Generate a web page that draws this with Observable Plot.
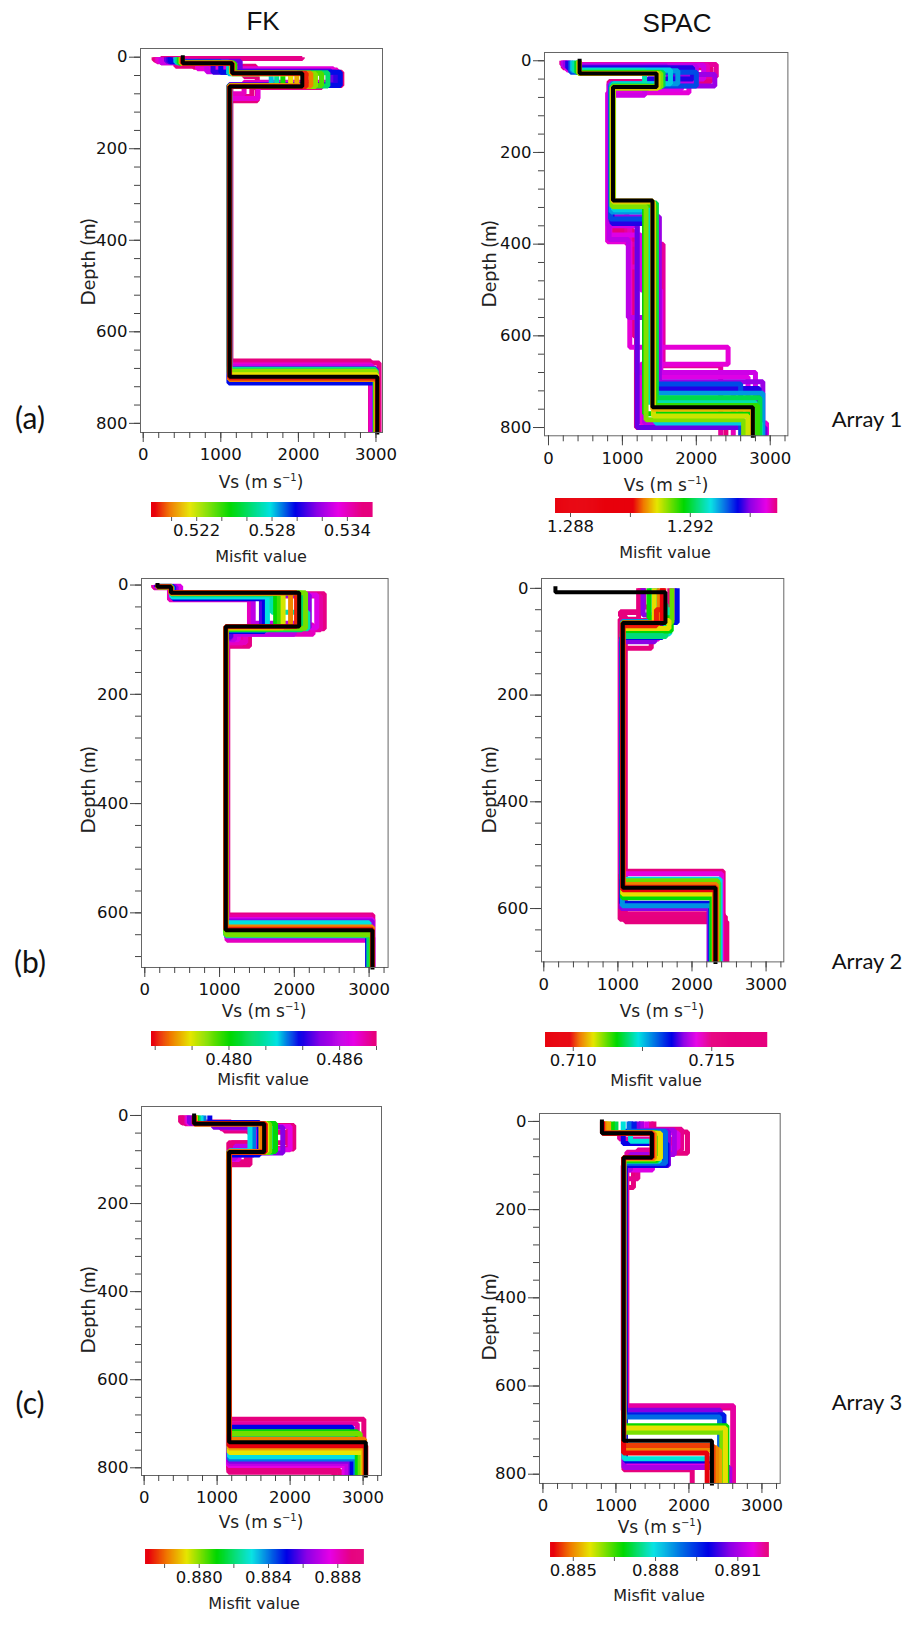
<!DOCTYPE html>
<html><head><meta charset="utf-8">
<script src="https://cdn.jsdelivr.net/npm/d3@7"></script>
<script src="https://cdn.jsdelivr.net/npm/@observablehq/plot@0.6"></script>
<style>
body{margin:0;background:#fff;}
#fig{position:relative;width:916px;height:1627px;overflow:hidden;background:#fff;color:#222;}
.abs{position:absolute;white-space:nowrap;line-height:1;}
svg{position:absolute;overflow:visible;}
</style></head><body><div id="fig"></div>
<script>
// ---------- colour ramp ----------
const rainbow = ["#e8000c","#f07800","#e6e600","#00d800","#00e2e2","#0000e6","#8a00e6","#e600e6","#e6007e"];

// ---------- axis tick labels ----------
const depthTicks800 = [0, 200, 400, 600, 800];
const depthTicks700 = [0, 200, 400, 600];
const vsTicks = [0, 1000, 2000, 3000];

// ---------- FK, Array 1 ----------
const fk1Misfit = [0.5355, 0.5352, 0.5350, 0.5340, 0.5336, 0.5328, 0.5312, 0.5305, 0.5298, 0.5282, 0.5270, 0.5262, 0.5245, 0.5236, 0.5228, 0.5214, 0.5207, 0.5200, 0.5190];
const fk1Vs = [
  [140, 650, 1300, 1470, 1125, 2930],
  [160, 420, 1450, 2560, 1130, 2940],
  [2050, 230, 900, 2300, 1400, 1120, 3040],
  [180, 1050, 2500, 1300, 1115, 2935],
  [200, 700, 2450, 1480, 1118, 2950],
  [230, 820, 1900, 1110, 2960],
  [300, 1250, 2420, 1120, 3000],
  [330, 900, 2480, 1110, 3000],
  [350, 1000, 2540, 1105, 2990],
  [420, 1100, 1650, 1115, 3000],
  [440, 1120, 1720, 1112, 2990],
  [450, 1160, 2380, 1112, 2998],
  [470, 1180, 1800, 1110, 2995],
  [480, 1170, 2300, 1110, 3000],
  [490, 1150, 2220, 1115, 3000],
  [495, 1140, 1900, 1110, 3010],
  [498, 1145, 1980, 1112, 3010],
  [500, 1150, 2160, 1113, 3020],
  [505, 1148, 2100, 1113, 3017]];
const fk1Z = [
  [6, 22, 42, 95, 664],
  [8, 20, 33, 62, 670],
  [3, 12, 30, 66, 86, 668],
  [10, 28, 55, 80, 672],
  [9, 25, 58, 90, 674],
  [12, 32, 60, 676],
  [9, 30, 62, 680],
  [10, 33, 60, 707],
  [10, 33, 62, 712],
  [11, 36, 62, 684],
  [12, 35, 62, 682],
  [12, 34, 63, 684],
  [13, 35, 62, 688],
  [13, 35, 62, 690],
  [13, 36, 64, 686],
  [13, 36, 63, 694],
  [13, 35, 63, 703],
  [13, 35, 63, 704],
  [13, 35, 64, 701]];
const fk1BestVs = [510, 1147, 2050, 1113, 3017];
const fk1BestZ = [13, 35, 64, 698];
const fk1Stops = [0.5187, 0.5199, 0.5215, 0.5247, 0.5279, 0.5299, 0.5316, 0.5333, 0.5352];
const fk1Bar = [0.5184, 0.536];
const fk1BarTicks = [0.520, 0.522, 0.524, 0.526, 0.528, 0.530, 0.532, 0.534];
const fk1BarLabels = [0.522, 0.528, 0.534];

// ---------- SPAC, Array 1 ----------
const spac1Misfit = [1.2949, 1.2948, 1.2947, 1.2946, 1.2945, 1.2944, 1.2943, 1.2941, 1.2939, 1.2937, 1.2933, 1.2930, 1.2928, 1.2925, 1.2921, 1.2918, 1.2916, 1.2913, 1.2910, 1.2907];
const spac1Vs = [
  [200, 2200, 820, 1150, 1190, 2400],
  [180, 2270, 1700, 830, 1060, 1550, 2330],
  [220, 2150, 1650, 850, 1100, 1500, 2500],
  [250, 1900, 800, 1100, 2430, 1250, 2950],
  [240, 1800, 830, 1250, 1520, 2700],
  [210, 2100, 1300, 810, 1200, 2800],
  [200, 2000, 820, 1080, 1300, 2850],
  [230, 1600, 2250, 850, 1500, 2900],
  [270, 1700, 845, 1200, 2930],
  [260, 1950, 1350, 860, 1300, 2850],
  [300, 2000, 840, 1350, 2600],
  [320, 1750, 850, 1380, 2900],
  [330, 1650, 880, 1450, 2870],
  [350, 1300, 870, 1350, 2800],
  [380, 1550, 860, 1460, 2860],
  [400, 1500, 880, 1300, 2720],
  [405, 1490, 865, 1440, 2830],
  [410, 1520, 860, 1320, 2640],
  [415, 1480, 875, 1420, 2700],
  [420, 1470, 870, 1410, 2760]];
const spac1Z = [
  [15, 45, 370, 600, 800],
  [8, 35, 62, 330, 400, 665],
  [10, 30, 60, 350, 450, 720],
  [20, 70, 395, 625, 662, 790],
  [18, 62, 380, 500, 690],
  [10, 40, 75, 360, 680],
  [12, 50, 390, 560, 790],
  [12, 30, 55, 340, 700],
  [18, 52, 350, 800],
  [15, 40, 60, 355, 715],
  [25, 55, 345, 705],
  [22, 50, 330, 725],
  [20, 50, 325, 790],
  [22, 52, 320, 745],
  [25, 55, 310, 735],
  [26, 56, 312, 770],
  [27, 57, 315, 752],
  [27, 58, 318, 783],
  [28, 60, 308, 775],
  [28, 58, 306, 760]];
const spac1BestVs = [421, 1462, 873, 1407, 2765];
const spac1BestZ = [28, 57, 305, 756];
const spac1Stops = [1.2901, 1.29045, 1.2909, 1.2918, 1.2927, 1.2936, 1.2940, 1.29455, 1.2949];
const spac1Bar = [1.2875, 1.2949];
const spac1BarTicks = [1.288, 1.290, 1.292, 1.294];
const spac1BarLabels = [1.288, 1.292];

// ---------- FK, Array 2 ----------
const fk2Misfit = [0.4878, 0.4875, 0.4872, 0.4866, 0.4860, 0.4852, 0.4845, 0.4838, 0.4826, 0.4820, 0.4812, 0.4801, 0.4795, 0.4790, 0.4781, 0.4770, 0.4762];
const fk2Vs = [
  [120, 400, 2400, 1400, 1110, 3050],
  [125, 450, 2350, 1300, 1105, 3020],
  [140, 330, 1400, 2250, 1350, 1100, 3000],
  [150, 480, 2300, 1250, 1090, 3050],
  [145, 400, 1450, 2000, 1200, 1095, 3050],
  [160, 420, 2200, 1150, 1085, 3040],
  [160, 390, 1560, 1150, 1088, 2990],
  [165, 380, 1600, 1090, 2980],
  [170, 360, 1640, 1085, 3000],
  [170, 365, 1700, 2180, 1085, 3040],
  [170, 360, 2100, 1085, 3000],
  [172, 355, 1750, 1088, 3040],
  [170, 352, 1800, 1085, 3030],
  [170, 352, 2150, 1085, 3045],
  [170, 350, 1850, 1083, 3045],
  [170, 350, 1950, 1083, 3045],
  [170, 350, 2030, 1083, 3045]];
const fk2Z = [
  [4, 16, 80, 112, 604],
  [5, 20, 82, 108, 607],
  [3, 27, 73, 90, 105, 650],
  [2, 18, 78, 100, 612],
  [3, 25, 70, 90, 100, 645],
  [3, 18, 78, 98, 615],
  [3, 22, 84, 95, 620],
  [3, 25, 85, 622],
  [3, 22, 82, 618],
  [3, 18, 50, 80, 642],
  [2, 15, 82, 640],
  [3, 16, 80, 636],
  [3, 15, 80, 634],
  [3, 14, 79, 640],
  [3, 15, 78, 628],
  [3, 14, 77, 626],
  [3, 14, 76, 630]];
const fk2BestVs = [170, 350, 2065, 1083, 3045];
const fk2BestZ = [3, 14, 76, 632];
const fk2Stops = [0.47594, 0.47685, 0.47793, 0.4801, 0.48263, 0.48381, 0.48498, 0.48679, 0.48787];
const fk2Bar = [0.4758, 0.488];
const fk2BarTicks = [0.476, 0.478, 0.480, 0.482, 0.484, 0.486, 0.488];
const fk2BarLabels = [0.480, 0.486];

// ---------- SPAC, Array 2 ----------
const spac2Misfit = [0.7168, 0.7166, 0.7163, 0.7158, 0.7150, 0.7145, 0.7140, 0.7135, 0.7128, 0.7124, 0.7120, 0.7116, 0.7112, 0.7107, 0.7103, 0.7100, 0.7095];
const spac2Vs = [
  [1300, 1035, 1100, 2470],
  [1280, 1030, 2440],
  [1700, 1450, 1080, 2420],
  [1330, 1050, 2450],
  [1350, 1420, 1045, 2420],
  [1760, 1550, 1040, 2400],
  [1340, 1500, 1045, 2230],
  [1800, 1600, 1050, 2250],
  [1480, 1060, 2260],
  [1450, 1700, 1060, 2380],
  [1520, 1650, 1062, 2360],
  [1420, 1720, 1060, 2270],
  [1730, 1062, 2350],
  [1490, 1690, 1065, 2300],
  [1560, 1070, 2330],
  [1620, 1520, 1066, 2320],
  [1600, 1066, 2310]];
const spac2Z = [
  [44, 52, 625],
  [58, 620],
  [62, 112, 530],
  [45, 615],
  [35, 60, 610],
  [60, 95, 535],
  [50, 100, 600],
  [64, 92, 590],
  [62, 595],
  [40, 85, 545],
  [30, 90, 552],
  [55, 80, 580],
  [64, 548],
  [60, 75, 573],
  [66, 555],
  [40, 70, 560],
  [65, 565]];
const spac2BestVs = [157, 1642, 1066, 2317];
const spac2BestZ = [7.5, 65, 561];
const spac2Stops = [0.7099, 0.71026, 0.71074, 0.71159, 0.71237, 0.71357, 0.71399, 0.71447, 0.71502];
const spac2Bar = [0.709, 0.717];
const spac2BarTicks = [0.710, 0.7125, 0.715];
const spac2BarLabels = [0.710, 0.715];

// ---------- FK, Array 3 ----------
const fk3Misfit = [0.8894, 0.8892, 0.8891, 0.8888, 0.8884, 0.8876, 0.8870, 0.8862, 0.8851, 0.8840, 0.8831, 0.8820, 0.8811, 0.8802, 0.8793, 0.8786, 0.8782, 0.8771];
const fk3Vs = [
  [500, 1190, 2050, 1450, 1160, 3010],
  [510, 1280, 1980, 1400, 1160, 2680],
  [520, 1420, 1950, 1160, 2600],
  [560, 1100, 1520, 1200, 1160, 2620],
  [580, 1050, 1600, 1500, 1160, 2920],
  [600, 1000, 2000, 1300, 1155, 2740],
  [640, 1150, 1560, 1250, 1160, 2780],
  [620, 950, 1900, 1165, 2830],
  [900, 1580, 1160, 2850],
  [820, 1500, 1165, 2900],
  [780, 1450, 1170, 2970],
  [740, 1760, 1162, 2950],
  [720, 1800, 1160, 2920],
  [700, 1720, 1165, 2960],
  [700, 1680, 1165, 3000],
  [695, 1600, 1165, 3010],
  [690, 1620, 1165, 3020],
  [685, 1660, 1164, 3037]];
const fk3Z = [
  [15, 23, 76, 112, 690],
  [16, 24, 75, 105, 805],
  [17, 38, 62, 800],
  [19, 35, 62, 95, 810],
  [18, 30, 60, 90, 700],
  [18, 25, 78, 100, 795],
  [18, 28, 70, 98, 790],
  [17, 27, 85, 785],
  [16, 90, 708],
  [18, 82, 780],
  [18, 80, 775],
  [18, 84, 726],
  [18, 82, 718],
  [19, 84, 722],
  [19, 82, 765],
  [19, 84, 755],
  [19, 84, 735],
  [19, 83, 750]];
const fk3BestVs = [685, 1644, 1164, 3037];
const fk3BestZ = [19, 83, 742];
const fk3Stops = [0.87709, 0.87815, 0.8793, 0.88104, 0.88306, 0.88508, 0.88623, 0.88758, 0.88883];
const fk3Bar = [0.8769, 0.8895];
const fk3BarTicks = [0.878, 0.880, 0.882, 0.884, 0.886, 0.888];
const fk3BarLabels = [0.880, 0.884, 0.888];

// ---------- SPAC, Array 3 ----------
const spac3Misfit = [0.8921, 0.8920, 0.8919, 0.8915, 0.8910, 0.8907, 0.8900, 0.8897, 0.8890, 0.8879, 0.8872, 0.8868, 0.8862, 0.8856, 0.8852, 0.8850, 0.8846, 0.8843];
const spac3Vs = [
  [1520, 1980, 1240, 1110, 2045],
  [1480, 1900, 1300, 1130, 2600],
  [1350, 1050, 1780, 1150, 2610],
  [1420, 1850, 1500, 1120, 2500],
  [1350, 1800, 1200, 1110, 2560],
  [1300, 1720, 1100, 2430],
  [1200, 1100, 1700, 1130, 2330],
  [1250, 1650, 1110, 2480],
  [1180, 1680, 1110, 2420],
  [1100, 1200, 1600, 1110, 2460],
  [1000, 1570, 1105, 2500],
  [950, 1560, 1105, 2520],
  [880, 1540, 1108, 2450],
  [860, 1610, 1105, 2500],
  [900, 1530, 1105, 2420],
  [840, 1520, 1105, 2380],
  [820, 1500, 1105, 2330],
  [815, 1495, 1105, 2250]];
const spac3Z = [
  [24, 72, 150, 790],
  [18, 65, 130, 650],
  [25, 40, 70, 645],
  [26, 60, 110, 780],
  [20, 75, 110, 785],
  [22, 100, 655],
  [22, 50, 100, 770],
  [24, 95, 665],
  [22, 95, 670],
  [25, 45, 90, 765],
  [26, 90, 700],
  [26, 88, 690],
  [27, 86, 705],
  [27, 84, 695],
  [27, 84, 745],
  [27, 83, 740],
  [27, 82, 735],
  [27, 82, 752]];
const spac3BestVs = [808, 1493, 1105, 2315];
const spac3BestZ = [27, 82, 724];
const spac3Stops = [0.88429, 0.8849, 0.88563, 0.88684, 0.88794, 0.88994, 0.89073, 0.89158, 0.89207];
const spac3Bar = [0.88417, 0.89213];
const spac3BarTicks = [0.885, 0.8865, 0.888, 0.8895, 0.891];
const spac3BarLabels = [0.885, 0.888, 0.891];

// ---------- layout (pixel positions) ----------
const panels = [
  {misfit: fk1Misfit, vs: fk1Vs, z: fk1Z, bestVs: fk1BestVs, bestZ: fk1BestZ, stops: fk1Stops, bar: fk1Bar, barTicks: fk1BarTicks, barLabels: fk1BarLabels, depthTicks: depthTicks800,
   frame: {l: 140, r: 382, t: 48, b: 432}, xDom: [-35, 3084], yDom: [-19, 820], depthLab: [87, 262], vsLab: [261, 482], barBox: {l: 150.7, r: 371.7, t: 501.7}, misLab: [261, 557]},
  {misfit: spac1Misfit, vs: spac1Vs, z: spac1Z, bestVs: spac1BestVs, bestZ: spac1BestZ, stops: spac1Stops, bar: spac1Bar, barTicks: spac1BarTicks, barLabels: spac1BarLabels, depthTicks: depthTicks800,
   frame: {l: 544.3, r: 787.7, t: 51.7, b: 435}, xDom: [-54, 3239], yDom: [-18, 818], depthLab: [488, 264], vsLab: [666, 485], barBox: {l: 555, r: 776.7, t: 497.7}, misLab: [665, 553]},
  {misfit: fk2Misfit, vs: fk2Vs, z: fk2Z, bestVs: fk2BestVs, bestZ: fk2BestZ, stops: fk2Stops, bar: fk2Bar, barTicks: fk2BarTicks, barLabels: fk2BarLabels, depthTicks: depthTicks700,
   frame: {l: 140.7, r: 387.3, t: 578.3, b: 967.3}, xDom: [-44, 3254], yDom: [-12, 700], depthLab: [87, 790], vsLab: [264, 1011], barBox: {l: 150.7, r: 375.7, t: 1030.7}, misLab: [263, 1080]},
  {misfit: spac2Misfit, vs: spac2Vs, z: spac2Z, bestVs: spac2BestVs, bestZ: spac2BestZ, stops: spac2Stops, bar: spac2Bar, barTicks: spac2BarTicks, barLabels: spac2BarLabels, depthTicks: depthTicks700,
   frame: {l: 541, r: 783.3, t: 578.3, b: 961.7}, xDom: [-31, 3239], yDom: [-18.5, 700], depthLab: [488, 790], vsLab: [662, 1011], barBox: {l: 545, r: 766.7, t: 1031.7}, misLab: [656, 1081]},
  {misfit: fk3Misfit, vs: fk3Vs, z: fk3Z, bestVs: fk3BestVs, bestZ: fk3BestZ, stops: fk3Stops, bar: fk3Bar, barTicks: fk3BarTicks, barLabels: fk3BarLabels, depthTicks: depthTicks800,
   frame: {l: 140.7, r: 380.7, t: 1106, b: 1475}, xDom: [-36, 3252], yDom: [-20.4, 817.5], depthLab: [87, 1310], vsLab: [261, 1522], barBox: {l: 145, r: 363.3, t: 1549.3}, misLab: [254, 1604]},
  {misfit: spac3Misfit, vs: spac3Vs, z: spac3Z, bestVs: spac3BestVs, bestZ: spac3BestZ, stops: spac3Stops, bar: spac3Bar, barTicks: spac3BarTicks, barLabels: spac3BarLabels, depthTicks: depthTicks800,
   frame: {l: 539.3, r: 780, t: 1112.7, b: 1482.7}, xDom: [-47, 3250], yDom: [-18, 821], depthLab: [488, 1317], vsLab: [660, 1527], barBox: {l: 550, r: 768.3, t: 1542.3}, misLab: [659, 1596]}
];

const fig = document.getElementById("fig");

function addText(html, x, y, style, rotate) {
  const d = document.createElement("div");
  d.className = "abs";
  d.innerHTML = html;
  d.style.left = x + "px";
  d.style.top = y + "px";
  d.style.transform = "translate(-50%,-50%)" + (rotate ? " rotate(-90deg)" : "");
  Object.assign(d.style, style);
  fig.appendChild(d);
}

// stepped profile vertices from layer velocities and layer-bottom depths
function stepPoints(vs, z, zMax) {
  const pts = [];
  let top = 0;
  vs.forEach((v, i) => {
    const bot = i < z.length ? z[i] : zMax;
    pts.push({x: v, y: top}, {x: v, y: bot});
    top = bot;
  });
  return pts;
}

const tickFont = '"DejaVu Sans", Verdana, sans-serif';
const labFont = 'Lato, "Open Sans", sans-serif';
const intFmt = d3.format("d");

panels.forEach((p, k) => {
  const ML = 60, MR = 10, MT = 6, MB = 40;
  const W = p.frame.r - p.frame.l + ML + MR;
  const H = p.frame.b - p.frame.t + MT + MB;
  const zMax = p.yDom[1];
  const order = d3.range(p.misfit.length).sort((a, b) => p.misfit[b] - p.misfit[a]);
  const rows = [];
  order.forEach(i => stepPoints(p.vs[i], p.z[i], zMax).forEach(pt => rows.push({id: i, m: p.misfit[i], x: pt.x, y: pt.y})));
  const best = stepPoints(p.bestVs, p.bestZ, zMax);
  const yMinor = d3.range(0, p.yDom[1] + 0.01, 40);
  const xMinor = d3.range(0, p.xDom[1] + 0.01, 200);
  const colorScale = {type: "linear", domain: p.stops, range: rainbow, clamp: true, interpolate: "rgb"};

  const svg = Plot.plot({
    width: W, height: H, marginLeft: ML, marginRight: MR, marginTop: MT, marginBottom: MB,
    x: {domain: p.xDom, axis: null},
    y: {domain: p.yDom, reverse: true, axis: null},
    color: colorScale,
    style: {fontFamily: tickFont, fontSize: "16px", color: "#222", background: "transparent"},
    marks: [
      Plot.line(rows, {x: "x", y: "y", z: "id", stroke: "m", strokeWidth: 5, strokeLinejoin: "miter", strokeLinecap: "butt"}),
      Plot.line(best, {x: "x", y: "y", stroke: "#000", strokeWidth: 4, strokeLinejoin: "miter", strokeLinecap: "square"}),
      Plot.frame({stroke: "#666"}),
      Plot.axisY(yMinor, {anchor: "left", tickSize: 6, fill: "none", stroke: "#444"}),
      Plot.axisY(p.depthTicks, {anchor: "left", tickSize: 11, tickPadding: 2, tickFormat: intFmt, stroke: "#444", fill: "#111", fontSize: 16.5, label: null}),
      Plot.axisX(xMinor, {anchor: "bottom", tickSize: 6, fill: "none", stroke: "#444"}),
      Plot.axisX(vsTicks, {anchor: "bottom", tickSize: 10, tickPadding: 6, tickFormat: intFmt, stroke: "#444", fill: "#111", fontSize: 16.5, label: null})
    ]
  });
  svg.style.left = (p.frame.l - ML) + "px";
  svg.style.top = (p.frame.t - MT) + "px";
  fig.appendChild(svg);

  // colour bar
  const bML = 30, bMR = 30, barH = 15;
  const bW = p.barBox.r - p.barBox.l + bML + bMR;
  const N = 220, lo = p.bar[0], hi = p.bar[1];
  const segs = d3.range(N).map(i => ({a: lo + (hi - lo) * i / N, b: lo + (hi - lo) * (i + 1) / N, m: lo + (hi - lo) * (i + 0.5) / N}));
  const bar = Plot.plot({
    width: bW, height: barH + 30, marginLeft: bML, marginRight: bMR, marginTop: 0, marginBottom: 30,
    x: {domain: p.bar, axis: null},
    color: colorScale,
    style: {fontFamily: tickFont, fontSize: "16px", color: "#222", background: "transparent"},
    marks: [
      Plot.rect(segs, {x1: "a", x2: "b", fill: "m", insetRight: -0.6}),
      Plot.axisX(p.barTicks, {anchor: "bottom", tickSize: 4, fill: "none", stroke: "#555"}),
      Plot.axisX(p.barLabels, {anchor: "bottom", tickSize: 0, tickPadding: 7, tickFormat: d3.format(".3f"), fill: "#111", fontSize: 16.5, label: null})
    ]
  });
  bar.style.left = (p.barBox.l - bML) + "px";
  bar.style.top = p.barBox.t + "px";
  fig.appendChild(bar);

  addText("Depth (m)", p.depthLab[0], p.depthLab[1], {fontFamily: labFont, fontSize: "20px", color: "#222"}, true);
  addText('Vs (m s<span style="font-size:10px;position:relative;top:-7px">&minus;1</span>)', p.vsLab[0], p.vsLab[1], {fontFamily: tickFont, fontSize: "17px", color: "#222"});
  addText("Misfit value", p.misLab[0], p.misLab[1], {fontFamily: tickFont, fontSize: "16px", color: "#222"});
});

addText("FK", 263, 21, {fontFamily: '"Liberation Sans", Arial, sans-serif', fontSize: "26px", color: "#111"});
addText("SPAC", 677, 23, {fontFamily: '"Liberation Sans", Arial, sans-serif', fontSize: "26px", color: "#111"});
[["(a)", 417], ["(b)", 961], ["(c)", 1402]].forEach(([t, y]) => addText(t, 30, y, {fontFamily: labFont, fontSize: "30px", color: "#111"}));
[["Array 1", 419], ["Array 2", 961], ["Array 3", 1402]].forEach(([t, y]) => addText(t, 867, y, {fontFamily: labFont, fontSize: "22px", color: "#111"}));
</script></body></html>
